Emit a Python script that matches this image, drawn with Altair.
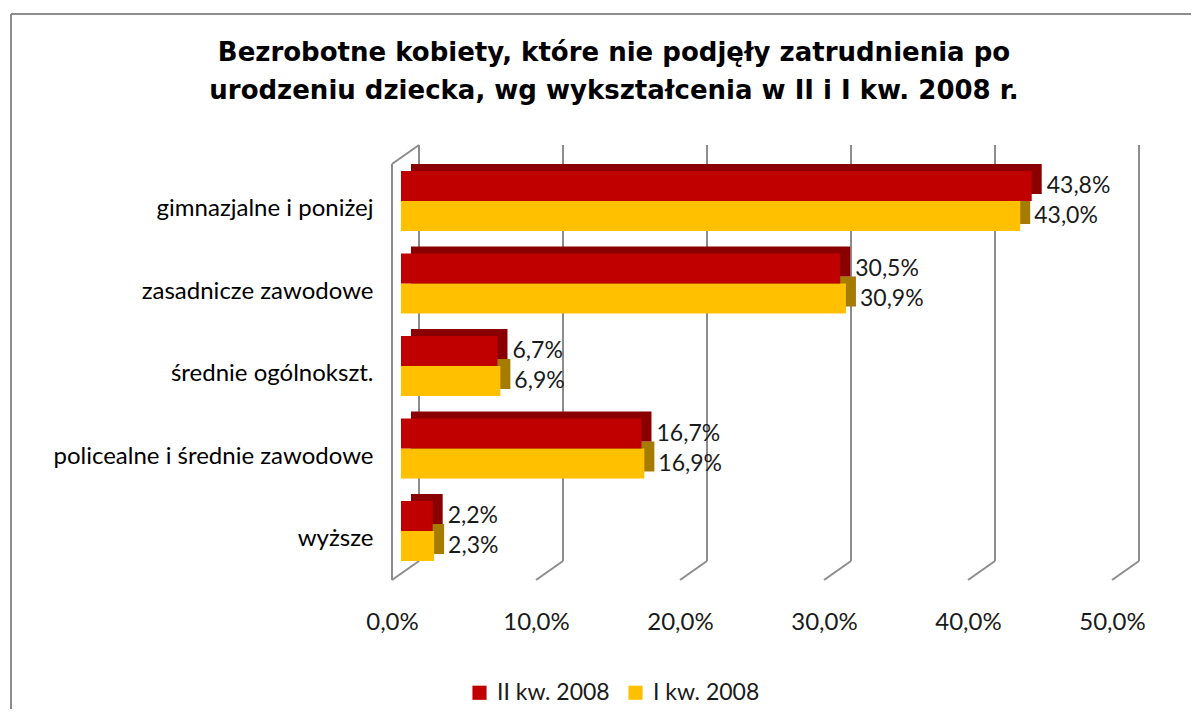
import altair as alt
import pandas as pd

categories = ["gimnazjalne i poniżej", "zasadnicze zawodowe", "średnie ogólnokszt.",
              "policealne i średnie zawodowe", "wyższe"]
q2_values = [43.8, 30.5, 6.7, 16.7, 2.2]
q1_values = [43.0, 30.9, 6.9, 16.9, 2.3]
series_names = ["II kw. 2008", "I kw. 2008"]
tick_values = [0, 10, 20, 30, 40, 50]
title_lines = ["Bezrobotne kobiety, które nie podjęły zatrudnienia po",
               "urodzeniu dziecka, wg wykształcenia w II i I kw. 2008 r."]

RED, RED_D = "#C00000", "#8A0000"
YEL, YEL_D = "#FFC000", "#A67C00"
GRID = "#8C8C8C"
FONT = "Lato"
TXT = "#1a1a1a"

rows = []
for c, a, b in zip(categories, q2_values, q1_values):
    rows.append({"cat": c, "series": series_names[0], "v": a})
    rows.append({"cat": c, "series": series_names[1], "v": b})
df = pd.DataFrame(rows)
ticks_df = pd.DataFrame({"t": tick_values})
one = pd.DataFrame({"a": [0]})

xs = alt.Scale(domain=[0, 50], range=[390, 1110], zero=False, nice=False)
ys = alt.Scale(domain=categories, range=[145.75, 558.25], paddingInner=0, paddingOuter=0)
label_expr = "replace(format(datum.value, '.1f'), '.', ',') + '%'"

xaxis = alt.Axis(orient="bottom", values=tick_values, labelExpr=label_expr,
                 domain=False, ticks=False, tickSize=0, grid=False,
                 labelFont=FONT, labelFontSize=24, labelColor=TXT, labelFlush=False,
                 labelOverlap=False, labelPadding=0, labelOffset=-9, offset=-99, title=None)
yaxis = alt.Axis(orient="left", domain=False, ticks=False, tickSize=0, labelPadding=0,
                 offset=-362, labelFont=FONT, labelFontSize=24, labelColor="#000000",
                 labelOffset=8, title=None, labelLimit=400, grid=False)


def xf(field):
    return alt.X(field, scale=xs, axis=xaxis, title=None)


Y = alt.Y("cat:N", scale=ys, sort=categories, axis=yaxis, title=None)

# frame (left and top edges)
frame_left = alt.Chart(one).mark_rule(color=GRID, strokeWidth=2).encode(x=alt.value(0))
frame_top = alt.Chart(one).mark_rule(color=GRID, strokeWidth=2).encode(y=alt.value(0))

# 3D gridlines
grid_back = alt.Chart(ticks_df).mark_rule(color=GRID, strokeWidth=2, xOffset=18).encode(
    x=xf("t:Q"), y=alt.value(131), y2=alt.value(547))
grid_floor = alt.Chart(ticks_df).mark_rule(color=GRID, strokeWidth=2, xOffset=18, x2Offset=-9).encode(
    x=xf("t:Q"), x2="t:Q", y=alt.value(547), y2=alt.value(566))
wall = alt.Chart(ticks_df).transform_filter("datum.t == 0")
wall_v = wall.mark_rule(color=GRID, strokeWidth=2, xOffset=-9).encode(
    x=xf("t:Q"), y=alt.value(150), y2=alt.value(566))
wall_top = wall.mark_rule(color=GRID, strokeWidth=2, xOffset=-9, x2Offset=18).encode(
    x=xf("t:Q"), x2="t:Q", y=alt.value(150), y2=alt.value(131))

base = alt.Chart(df)
red = base.transform_filter(alt.datum.series == series_names[0])
yel = base.transform_filter(alt.datum.series == series_names[1])

color = alt.Color("series:N", scale=alt.Scale(domain=series_names, range=[RED, YEL]),
                  sort=series_names,
                  legend=alt.Legend(orient="none", legendX=457, legendY=667, direction="horizontal",
                                    title=None, symbolType="square", symbolSize=200,
                                    symbolStrokeWidth=0, labelFont=FONT, labelFontSize=23,
                                    labelColor=TXT, columnPadding=14, labelOffset=6))

depth_y = yel.mark_bar(height=30, yOffset=8, xOffset=10, x2Offset=10, color=YEL_D).encode(x=xf("v:Q"), y=Y)
depth_r = red.mark_bar(height=30, yOffset=-22, xOffset=10, x2Offset=10, color=RED_D).encode(x=xf("v:Q"), y=Y)

front_y = yel.mark_bar(height=30, yOffset=15).encode(x=xf("v:Q"), y=Y, color=color)
front_r = red.mark_bar(height=30, yOffset=-15).encode(x=xf("v:Q"), y=Y, color=color)

txt = base.transform_calculate(lbl="replace(format(datum.v, '.1f'), '.', ',') + '%'")
text_r = txt.transform_filter(alt.datum.series == series_names[0]).mark_text(
    align="left", baseline="middle", dx=15, yOffset=-15, font=FONT, fontSize=23, color=TXT
).encode(x=xf("v:Q"), y=Y, text="lbl:N")
text_y = txt.transform_filter(alt.datum.series == series_names[1]).mark_text(
    align="left", baseline="middle", dx=14, yOffset=15, font=FONT, fontSize=23, color=TXT
).encode(x=xf("v:Q"), y=Y, text="lbl:N")

chart = alt.layer(
    frame_left, frame_top, grid_back, grid_floor, wall_v, wall_top,
    depth_y, depth_r, front_y, front_r, text_r, text_y
).properties(
    width=1180, height=695,
    padding={"left": 2, "top": 5, "right": 3, "bottom": 3},
    background="white",
    title=alt.TitleParams(text=title_lines, font="DejaVu Sans", fontSize=26,
                          fontWeight="bold", color="#000000", anchor="middle",
                          offset=-91, dx=13, lineHeight=38),
).configure_view(stroke=None)

chart.save("out.html", embed_options={"renderer": "svg", "actions": False})
